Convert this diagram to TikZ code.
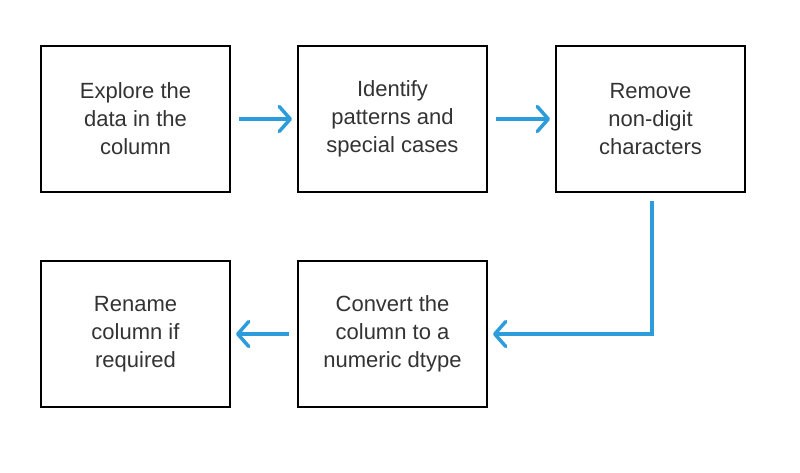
\documentclass[tikz,border=0pt]{standalone}
\usepackage{fontspec}
\setmainfont{Liberation Sans}
\usetikzlibrary{arrows.meta,positioning}

\definecolor{flowblue}{RGB}{45,156,219}
\definecolor{boxtext}{RGB}{51,51,51}

\begin{document}
\begin{tikzpicture}[x=1pt, y=-1pt, >={Straight Barb[length=11pt, width=25pt, round]},
  stepbox/.style={draw, line width=2pt, minimum width=189pt, minimum height=146pt,
    inner sep=0pt, align=center, text=boxtext, font=\fontsize{22}{28}\selectfont},
  flow/.style={->, draw=flowblue, line width=3.5pt, shorten <=8pt, shorten >=5pt}]

\useasboundingbox (0,0) rectangle (800,472);

% top row: explore, identify, remove
\node[stepbox] (explore) at (135.5,119) {Explore the\\data in the\\column};
\node[stepbox, right=66pt of explore] (identify) {Identify\\patterns and\\special cases};
\node[stepbox, right=67pt of identify] (remove) {Remove\\non-digit\\characters};

% bottom row: convert, rename
\node[stepbox, below=67pt of identify] (convert) {Convert the\\column to a\\numeric dtype};
\node[stepbox, left=66pt of convert] (rename) {Rename\\column if\\required};

% arrows between the steps
\draw[flow] ([xshift=1.5pt]remove.south) |- (convert.east);
\draw[flow] (explore) -- (identify);
\draw[flow] (identify) -- (remove);
\draw[flow] (convert) -- (rename);

\end{tikzpicture}
\end{document}
